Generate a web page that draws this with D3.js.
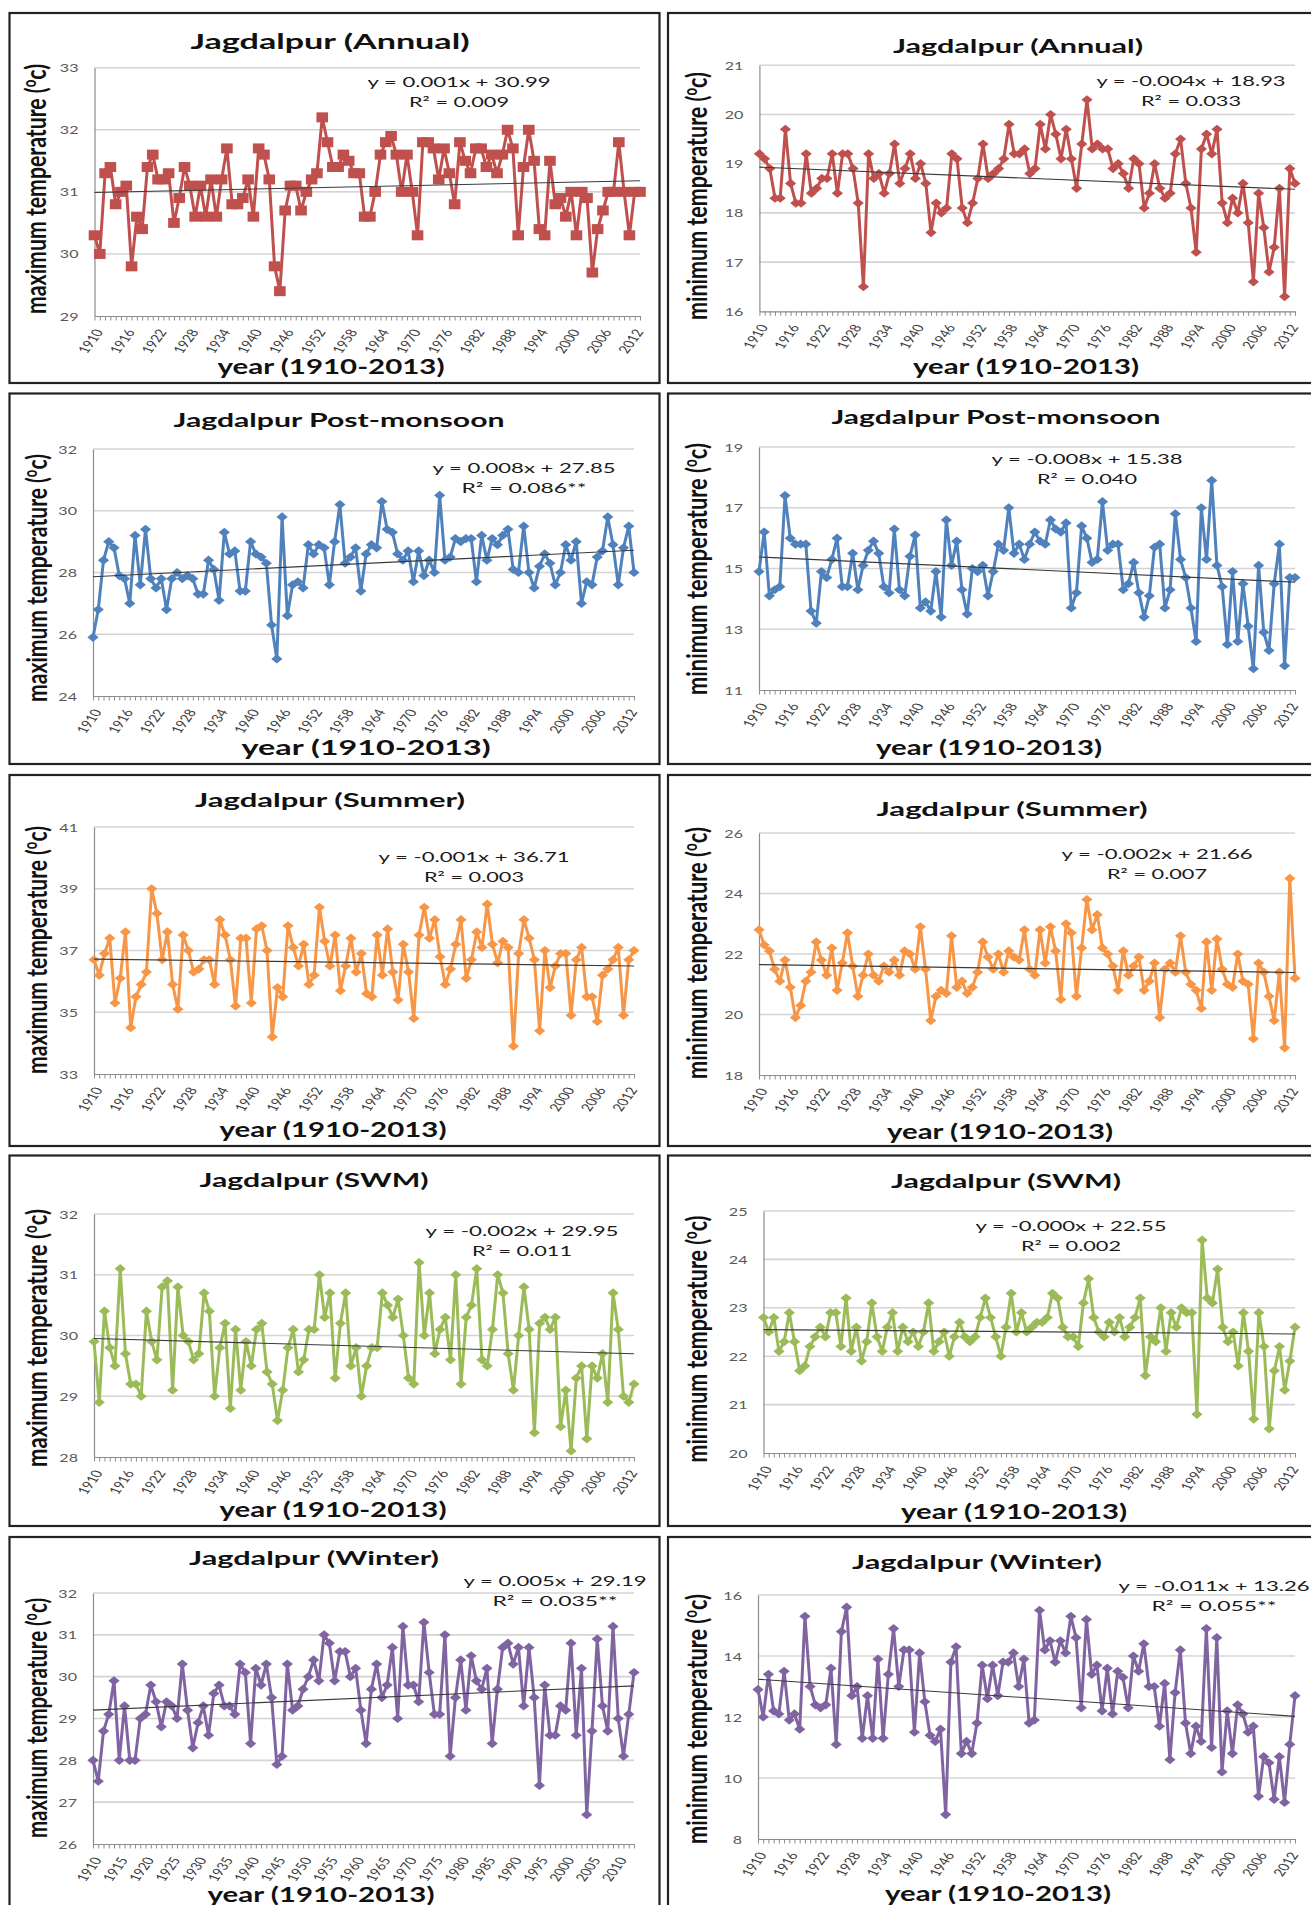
<!DOCTYPE html>
<html>
<head>
<meta charset="utf-8">
<script src="https://cdn.jsdelivr.net/npm/d3@7/dist/d3.min.js"></script>
<style>
body { margin: 0; background: #fff; }
svg { display: block; }
text { font-family: Lato, "Open Sans", sans-serif; }
</style>
</head>
<body>
<svg id="chart" width="1311" height="1905"></svg>
<script>
// categories
const years = d3.range(1910, 2014)

// series (deg C)
const maxAnnual = [30.3,30.0,31.3,31.4,30.8,31.0,31.1,29.8,30.6,30.4,
  31.4,31.6,31.2,31.2,31.3,30.5,30.9,31.4,31.1,30.6,
  31.1,30.6,31.2,30.6,31.2,31.7,30.8,30.8,30.9,31.2,
  30.6,31.7,31.6,31.2,29.8,29.4,30.7,31.1,31.1,30.7,
  31.0,31.2,31.3,32.2,31.8,31.4,31.4,31.6,31.5,31.3,
  31.3,30.6,30.6,31.0,31.6,31.8,31.9,31.6,31.0,31.6,
  31.0,30.3,31.8,31.8,31.7,31.2,31.7,31.3,30.8,31.8,
  31.5,31.3,31.7,31.7,31.4,31.6,31.3,31.6,32.0,31.7,
  30.3,31.4,32.0,31.5,30.4,30.3,31.5,30.8,30.9,30.6,
  31.0,30.3,31.0,30.9,29.7,30.4,30.7,31.0,31.0,31.8,
  31.0,30.3,31.0,31.0]
const minAnnual = [19.2,19.1,18.9,18.3,18.3,19.7,18.6,18.2,18.2,19.2,
  18.4,18.5,18.7,18.7,19.2,18.4,19.2,19.2,18.9,18.2,
  16.5,19.2,18.7,18.8,18.4,18.8,19.4,18.6,18.9,19.2,
  18.7,19.0,18.6,17.6,18.2,18.0,18.1,19.2,19.1,18.1,
  17.8,18.2,18.7,19.4,18.7,18.8,18.9,19.1,19.8,19.2,
  19.2,19.3,18.8,18.9,19.8,19.3,20.0,19.6,19.1,19.7,
  19.1,18.5,19.4,20.3,19.3,19.4,19.3,19.3,18.9,19.0,
  18.8,18.5,19.1,19.0,18.1,18.4,19.0,18.5,18.3,18.4,
  19.2,19.5,18.6,18.1,17.2,19.3,19.6,19.2,19.7,18.2,
  17.8,18.3,18.0,18.6,17.8,16.6,18.4,17.7,16.8,17.3,
  18.5,16.3,18.9,18.6]
const maxPostMonsoon = [25.9,26.8,28.4,29.0,28.8,27.9,27.8,27.0,29.2,27.6,
  29.4,27.8,27.5,27.8,26.8,27.8,28.0,27.8,27.9,27.8,
  27.3,27.3,28.4,28.1,27.1,29.3,28.6,28.7,27.4,27.4,
  29.0,28.6,28.5,28.3,26.3,25.2,29.8,26.6,27.6,27.7,
  27.5,28.9,28.6,28.9,28.8,27.6,29.0,30.2,28.3,28.5,
  28.8,27.4,28.6,28.9,28.8,30.3,29.4,29.3,28.6,28.4,
  28.7,27.7,28.7,27.9,28.4,28.0,30.5,28.4,28.5,29.1,
  29.0,29.1,29.1,27.7,29.2,28.4,29.1,28.9,29.2,29.4,
  28.1,28.0,29.5,28.0,27.5,28.2,28.6,28.3,27.6,28.0,
  28.9,28.4,29.0,27.0,27.7,27.6,28.5,28.7,29.8,28.9,
  27.6,28.8,29.5,28.0]
const minPostMonsoon = [14.9,16.2,14.1,14.3,14.4,17.4,16.0,15.8,15.8,15.8,
  13.6,13.2,14.9,14.7,15.3,16.0,14.4,14.4,15.5,14.3,
  15.1,15.6,15.9,15.5,14.4,14.2,16.3,14.3,14.1,15.4,
  16.1,13.7,13.9,13.6,14.9,13.4,16.6,15.1,15.9,14.3,
  13.5,15.0,14.9,15.1,14.1,14.9,15.8,15.6,17.0,15.5,
  15.8,15.3,15.8,16.2,15.9,15.8,16.6,16.3,16.2,16.5,
  13.7,14.2,16.4,16.0,15.2,15.3,17.2,15.6,15.8,15.8,
  14.3,14.5,15.2,14.2,13.4,14.1,15.7,15.8,13.7,14.3,
  16.8,15.3,14.7,13.7,12.6,17.0,15.3,17.9,15.1,14.4,
  12.5,14.9,12.6,14.5,13.1,11.7,15.1,12.9,12.3,14.5,
  15.8,11.8,14.7,14.7]
const maxSummer = [36.7,36.2,36.9,37.4,35.3,36.1,37.6,34.5,35.5,35.9,
  36.3,39.0,38.2,36.7,37.6,35.9,35.1,37.5,37.0,36.3,
  36.4,36.7,36.7,35.9,38.0,37.5,36.7,35.2,37.4,37.4,
  35.3,37.7,37.8,37.0,34.2,35.8,35.5,37.8,37.1,36.5,
  37.2,35.9,36.2,38.4,37.3,36.5,37.5,35.7,36.5,37.4,
  36.3,36.9,35.6,35.5,37.5,36.2,37.7,36.3,35.4,37.2,
  36.3,34.8,37.5,38.4,37.4,38.0,36.8,35.9,36.4,37.2,
  38.0,36.1,36.7,37.6,37.1,38.5,37.2,36.6,37.3,37.1,
  33.9,36.9,38.0,37.4,36.7,34.4,37.0,35.8,36.5,36.9,
  36.9,34.9,36.7,37.1,35.5,35.5,34.7,36.2,36.4,36.7,
  37.1,34.9,36.7,37.0]
const minSummer = [22.8,22.3,22.1,21.5,21.1,21.8,20.9,19.9,20.3,21.1,
  21.4,22.4,21.8,21.3,22.2,20.8,21.7,22.7,21.6,20.6,
  21.3,22.0,21.3,21.1,21.6,21.4,21.8,21.3,22.1,22.0,
  21.5,22.9,21.5,19.8,20.6,20.8,20.7,22.6,20.9,21.1,
  20.7,20.9,21.4,22.4,21.9,21.5,22.0,21.4,22.1,21.9,
  21.8,22.8,21.5,21.3,22.8,21.7,22.9,22.1,20.5,23.0,
  22.7,20.6,22.2,23.8,22.8,23.3,22.2,22.0,21.6,20.8,
  22.1,21.3,21.6,21.9,20.8,21.1,21.7,19.9,21.5,21.7,
  21.4,22.6,21.4,21.0,20.8,20.2,22.4,20.8,22.5,21.5,
  21.0,20.9,22.0,21.1,21.0,19.2,21.7,21.4,20.6,19.8,
  21.4,18.9,24.5,21.2]
const maxSWM = [29.9,28.9,30.4,29.8,29.5,31.1,29.7,29.2,29.2,29.0,
  30.4,29.9,29.6,30.8,30.9,29.1,30.8,30.0,29.9,29.6,
  29.7,30.7,30.4,29.0,29.8,30.2,28.8,30.1,29.1,29.9,
  29.5,30.1,30.2,29.4,29.2,28.6,29.1,29.8,30.1,29.4,
  29.6,30.1,30.1,31.0,30.3,30.7,29.3,30.2,30.7,29.5,
  29.8,29.0,29.5,29.8,29.8,30.7,30.5,30.3,30.6,30.0,
  29.3,29.2,31.2,30.0,30.7,29.7,30.1,30.3,29.6,31.0,
  29.2,30.3,30.5,31.1,29.6,29.5,30.1,31.0,30.7,29.7,
  29.1,30.0,30.8,30.1,28.4,30.2,30.3,30.1,30.3,28.5,
  29.1,28.1,29.3,29.5,28.3,29.5,29.3,29.7,28.9,30.7,
  30.1,29.0,28.9,29.2]
const minSWM = [22.8,22.5,22.8,22.1,22.3,22.9,22.3,21.7,21.8,22.2,
  22.4,22.6,22.4,22.9,22.9,22.2,23.2,22.1,22.6,21.9,
  22.3,23.1,22.4,22.1,22.6,22.9,22.1,22.6,22.3,22.5,
  22.2,22.5,23.1,22.1,22.3,22.5,22.0,22.4,22.7,22.4,
  22.3,22.4,22.8,23.2,22.8,22.4,22.0,22.6,23.3,22.5,
  22.9,22.5,22.6,22.7,22.7,22.8,23.3,23.2,22.6,22.4,
  22.4,22.2,23.1,23.6,22.8,22.5,22.4,22.7,22.5,22.8,
  22.4,22.6,22.8,23.2,21.6,22.4,22.3,23.0,22.1,22.9,
  22.6,23.0,22.9,22.9,20.8,24.4,23.2,23.1,23.8,22.6,
  22.3,22.5,21.8,22.9,22.1,20.7,22.9,22.2,20.5,21.7,
  22.2,21.3,21.9,22.6]
const maxWinter = [28.0,27.5,28.7,29.1,29.9,28.0,29.3,28.0,28.0,29.0,
  29.1,29.8,29.4,28.8,29.4,29.3,29.0,30.3,29.2,28.3,
  28.9,29.3,28.6,29.6,29.8,29.3,29.3,29.1,30.3,30.1,
  28.4,30.2,29.8,30.3,29.5,27.9,28.1,30.3,29.2,29.3,
  29.7,30.0,30.4,29.9,31.0,30.8,29.9,30.6,30.6,30.0,
  30.2,29.2,28.4,29.7,30.3,29.5,29.8,30.7,29.0,31.2,
  29.8,29.8,29.4,31.3,30.1,29.1,29.1,31.0,28.1,29.5,
  30.4,29.2,30.5,29.9,29.7,30.2,28.4,29.7,30.7,30.8,
  30.3,30.7,29.3,30.7,29.5,27.4,29.8,28.6,28.6,29.3,
  29.2,30.8,28.6,30.2,26.7,28.7,30.9,29.3,28.7,31.2,
  29.0,28.1,29.1,30.1]
const minWinter = [12.9,12.0,13.4,12.2,12.1,13.5,11.9,12.1,11.6,15.3,
  13.0,12.4,12.3,12.4,13.6,11.1,14.8,15.6,12.7,13.0,
  11.3,12.7,11.3,13.9,11.3,13.4,14.9,13.0,14.2,14.2,
  11.5,14.1,12.5,11.4,11.2,11.6,8.8,13.8,14.3,10.8,
  11.2,10.8,11.8,13.7,12.6,13.7,12.7,13.8,13.8,14.1,
  13.0,13.9,11.8,11.9,15.5,14.2,14.5,13.8,14.5,14.1,
  15.3,14.6,12.3,15.2,13.4,13.7,12.2,13.6,12.1,13.5,
  13.3,12.3,14.0,13.5,14.4,13.0,13.0,11.7,13.1,10.6,
  12.8,14.2,11.8,10.8,11.7,11.2,14.9,11.0,14.6,10.2,
  12.2,10.8,12.4,12.1,11.5,11.7,9.4,10.7,10.5,9.3,
  10.7,9.2,11.1,12.7]

// panel texts, ticks, trend ends (left column = maximum, right = minimum)
const seriesList = [maxAnnual, minAnnual, maxPostMonsoon, minPostMonsoon, maxSummer, minSummer, maxSWM, minSWM, maxWinter, minWinter]
const panelTitles = ['Jagdalpur (Annual)', 'Jagdalpur (Annual)', 'Jagdalpur Post-monsoon', 'Jagdalpur Post-monsoon',
  'Jagdalpur (Summer)', 'Jagdalpur (Summer)', 'Jagdalpur (SWM)', 'Jagdalpur (SWM)', 'Jagdalpur (Winter)', 'Jagdalpur (Winter)']
const yTitleWords = ['maximum', 'minimum', 'maximum', 'minimum', 'maximum', 'minimum', 'maximum', 'minimum', 'maximum', 'minimum']
const yTickValues = [[29,30,31,32,33], [16,17,18,19,20,21], [24,26,28,30,32], [11,13,15,17,19], [33,35,37,39,41],
  [18,20,22,24,26], [28,29,30,31,32], [20,21,22,23,24,25], [26,27,28,29,30,31,32], [8,10,12,14,16]]
const equations = ['y = 0.001x + 30.99', 'y = -0.004x + 18.93', 'y = 0.008x + 27.85', 'y = -0.008x + 15.38', 'y = -0.001x + 36.71',
  'y = -0.002x + 21.66', 'y = -0.002x + 29.95', 'y = -0.000x + 22.55', 'y = 0.005x + 29.19', 'y = -0.011x + 13.26']
const rSquared = ['R² = 0.009', 'R² = 0.033', 'R² = 0.086**', 'R² = 0.040', 'R² = 0.003',
  'R² = 0.007', 'R² = 0.011', 'R² = 0.002', 'R² = 0.035**', 'R² = 0.055**']
const trendEnds = [[30.99,31.18], [18.93,18.48], [27.86,28.72], [15.38,14.55], [36.72,36.5],
  [21.65,21.39], [29.95,29.7], [22.55,22.46], [29.2,29.78], [13.24,12.02]]
const xLabelStep = [6,6,6,6,6,6,6,6,5,6]

// layout (page pixels)
const layout = [
  {frame:[9.5,13], plot:[94.5,640,67.7,316], title:[330,49,279], xTitle:[331,374,227], yTitle:[36,189,250], eq:[459,87,183], r2:[459,107,100]},
  {frame:[668,13], plot:[759.4,1295,65.3,311.3], title:[1018,53,250], xTitle:[1026,374,226], yTitle:[697,196,248], eq:[1191,86,189], r2:[1191,106,100]},
  {frame:[9.5,393.5], plot:[93,634,449,696], title:[339,427,331], xTitle:[366,755,249], yTitle:[37,578,248], eq:[524,473,183], r2:[524,493,125]},
  {frame:[668,393.5], plot:[759,1295,447,690], title:[996,424,329], xTitle:[989,755,226], yTitle:[697,569,252], eq:[1087,464,191], r2:[1087,484,100]},
  {frame:[9.5,775], plot:[94,634,827,1074], title:[330,807,270], xTitle:[333,1137,227], yTitle:[37,950,248], eq:[474,862,191], r2:[474,882,100]},
  {frame:[668,775], plot:[759,1295,833,1075], title:[1012,816,271], xTitle:[1000,1139,226], yTitle:[697,953,252], eq:[1157,859,191], r2:[1157,879,100]},
  {frame:[9.5,1155.5], plot:[94,634,1214,1457], title:[314,1187,229], xTitle:[333,1517,227], yTitle:[37,1338,258], eq:[522,1236,193], r2:[522,1256,100]},
  {frame:[668,1155.5], plot:[763.5,1295,1211,1453], title:[1006,1188,230], xTitle:[1014,1519,226], yTitle:[697,1339,247], eq:[1071,1231,191], r2:[1071,1251,100]},
  {frame:[9.5,1537], plot:[93,634,1593,1844], title:[314,1565,250], xTitle:[321,1902,227], yTitle:[37,1718,240], eq:[555,1586,183], r2:[555,1606,125]},
  {frame:[668,1537], plot:[758,1295,1595,1839], title:[977,1569,250], xTitle:[998,1901,226], yTitle:[697,1719,250], eq:[1214,1591,191], r2:[1214,1611,125]}
]
const frameW = [650, 660]
const frameH = [370, 370.5, 371, 370.5, 380]
const seriesColors = ['#C0504D','#C0504D','#4F81BD','#4F81BD','#F79646','#F79646','#9BBB59','#9BBB59','#8064A2','#8064A2']

// the source chart was stretched sideways, text and markers too
const sx = 1.4

const svg = d3.select('#chart')

function stretched(x, y, rot){
    return 'translate(' + x + ',' + y + ') scale(' + sx + ',1)' + (rot ? ' rotate(' + rot + ')' : '')
}

function diamondPath(w, h){
    return 'M0,' + (-h) + 'L' + w + ',0L0,' + h + 'L' + (-w) + ',0Z'
}

seriesList.forEach(function(values, i){
    const L = layout[i]
    const col = i % 2
    const row = Math.floor(i / 2)
    const g = svg.append('g')
    const left = L.plot[0], right = L.plot[1], top = L.plot[2], bottom = L.plot[3]

    g.append('rect')
        .attr('x', L.frame[0]).attr('y', L.frame[1])
        .attr('width', frameW[col]).attr('height', frameH[row])
        .attr('fill', 'none').attr('stroke', '#222').attr('stroke-width', 2.2)

    const x = d3.scalePoint().domain(years).range([left, right])
    const ticks = yTickValues[i]
    const y = d3.scaleLinear().domain(d3.extent(ticks)).range([bottom, top])

    // gridlines
    g.selectAll('.grid').data(ticks.slice(1)).join('line')
        .attr('x1', left).attr('x2', right)
        .attr('y1', d => y(d)).attr('y2', d => y(d))
        .attr('stroke', '#d4d4d4').attr('stroke-width', 1.6)

    // y axis
    const yAxis = g.append('g')
        .attr('transform', 'translate(' + left + ',0)')
        .call(d3.axisLeft(y).tickValues(ticks).tickFormat(d3.format('d')).tickSize(0).tickSizeOuter(0))
    yAxis.select('.domain').attr('stroke', '#8c8c8c').attr('stroke-width', 1.2)
    yAxis.selectAll('text')
        .attr('x', null).attr('dy', '0.35em')
        .attr('transform', 'translate(-16,0) scale(' + sx + ',1)')
        .attr('font-size', 11.5).attr('fill', '#595959')
        .style('font-family', 'Lato, "Open Sans", sans-serif')

    // x axis, a tick every year
    const step = xLabelStep[i]
    const xAxis = g.append('g')
        .attr('transform', 'translate(0,' + bottom + ')')
        .call(d3.axisBottom(x).tickValues(years).tickSize(4.5).tickSizeOuter(0)
            .tickFormat(d => (d - 1910) % step == 0 ? d : ''))
    xAxis.select('.domain').attr('stroke', '#8c8c8c').attr('stroke-width', 1.2)
    xAxis.selectAll('line').attr('stroke', '#8c8c8c')
    xAxis.selectAll('text')
        .attr('y', null).attr('dy', '0.35em')
        .attr('text-anchor', 'end')
        .attr('transform', 'translate(4,14) scale(' + sx + ',1) rotate(-62)')
        .attr('font-size', 11).attr('fill', '#404040')
        .style('font-family', 'Lato, "Open Sans", sans-serif')

    // series line
    const line = d3.line().x((d, j) => x(years[j])).y(d => y(d))
    g.append('path')
        .datum(values)
        .attr('d', line)
        .attr('fill', 'none')
        .attr('stroke', seriesColors[i])
        .attr('stroke-width', 3)
        .attr('stroke-linejoin', 'round')

    // markers
    if (i == 0){
        g.selectAll('.mk').data(values).join('rect')
            .attr('x', (d, j) => x(years[j]) - 5.8)
            .attr('y', d => y(d) - 5)
            .attr('width', 11.6).attr('height', 10)
            .attr('fill', seriesColors[i])
    } else {
        g.selectAll('.mk').data(values).join('path')
            .attr('d', diamondPath(5.6, 4.6))
            .attr('transform', (d, j) => 'translate(' + x(years[j]) + ',' + y(d) + ')')
            .attr('fill', seriesColors[i])
    }

    // linear trend
    g.append('line')
        .attr('x1', x(years[0])).attr('y1', y(trendEnds[i][0]))
        .attr('x2', x(years[years.length - 1])).attr('y2', y(trendEnds[i][1]))
        .attr('stroke', '#3a3a3a').attr('stroke-width', 1.1)

    // title
    g.append('text')
        .attr('transform', stretched(L.title[0], L.title[1]))
        .attr('text-anchor', 'middle')
        .attr('textLength', L.title[2] / sx).attr('lengthAdjust', 'spacingAndGlyphs')
        .attr('font-size', i == 0 ? 21 : 19).attr('font-weight', 'bold').attr('fill', '#111')
        .text(panelTitles[i])

    // x title
    g.append('text')
        .attr('transform', stretched(L.xTitle[0], L.xTitle[1]))
        .attr('text-anchor', 'middle')
        .attr('textLength', L.xTitle[2] / sx).attr('lengthAdjust', 'spacingAndGlyphs')
        .attr('font-size', 20).attr('font-weight', 'bold').attr('fill', '#111')
        .text('year (1910-2013)')

    // y title
    const yt = g.append('text')
        .attr('transform', stretched(L.yTitle[0], L.yTitle[1], -90))
        .attr('text-anchor', 'middle').attr('dy', '0.35em')
        .attr('textLength', L.yTitle[2]).attr('lengthAdjust', 'spacingAndGlyphs')
        .attr('font-size', 21).attr('font-weight', 'bold').attr('fill', '#111')
    yt.append('tspan').text(yTitleWords[i] + ' temperature (')
    yt.append('tspan').attr('font-size', 13).attr('baseline-shift', 'super').text('o')
    yt.append('tspan').text('c)')

    // equation + r2
    g.append('text')
        .attr('transform', stretched(L.eq[0], L.eq[1]))
        .attr('text-anchor', 'middle')
        .attr('textLength', L.eq[2] / sx).attr('lengthAdjust', 'spacingAndGlyphs')
        .attr('font-size', 14).attr('fill', '#1a1a1a')
        .text(equations[i])
    g.append('text')
        .attr('transform', stretched(L.r2[0], L.r2[1]))
        .attr('text-anchor', 'middle')
        .attr('textLength', L.r2[2] / sx).attr('lengthAdjust', 'spacingAndGlyphs')
        .attr('font-size', 14).attr('fill', '#1a1a1a')
        .text(rSquared[i])
})
</script>
</body>
</html>
